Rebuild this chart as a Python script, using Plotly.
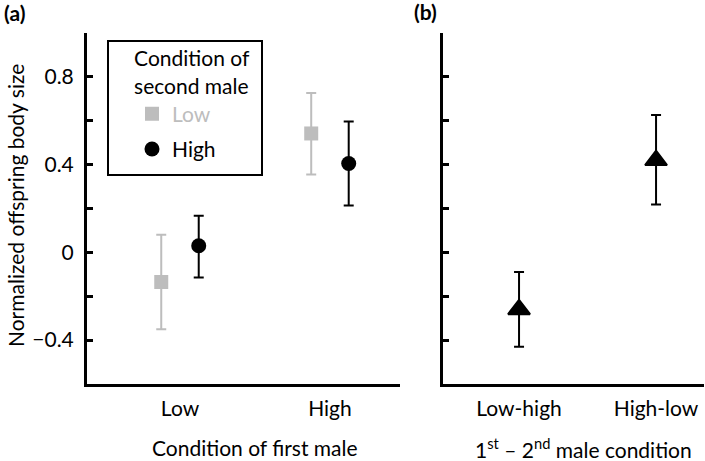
import plotly.graph_objects as go

# ---- data ----
first_male = ["Low", "High"]
second_low_mean = [-0.135, 0.542]
second_low_upper = [0.08, 0.726]
second_low_lower = [-0.35, 0.355]
second_high_mean = [0.03, 0.405]
second_high_upper = [0.167, 0.597]
second_high_lower = [-0.115, 0.214]

order_cats = ["Low-high", "High-low"]
order_mean = [-0.26, 0.42]
order_upper = [-0.09, 0.626]
order_lower = [-0.43, 0.218]

y_ticks = [-0.6, -0.4, -0.2, 0, 0.2, 0.4, 0.6, 0.8, 1.0]
y_ticklabels = ["", "\u22120.4", "", "0", "", "0.4", "", "0.8", ""]

GRAY = "#bdbdbd"
W, H = 705, 461
FONT = "Lato"
FS = 21
dodge = 0.125

def fx(px):
    return px / W

def fy(py):
    return 1 - py / H

def errs(mean, up, lo):
    return [u - m for u, m in zip(up, mean)], [m - l for m, l in zip(mean, lo)]

fig = go.Figure()

xpos = list(range(1, len(first_male) + 1))
e_up, e_lo = errs(second_low_mean, second_low_upper, second_low_lower)
fig.add_trace(go.Scatter(
    x=[x - dodge for x in xpos], y=second_low_mean, mode="markers",
    name="<span style='color:%s'>Low</span>" % GRAY, legendgroup="low",
    marker=dict(symbol="square", size=14, color=GRAY),
    error_y=dict(type="data", array=e_up, arrayminus=e_lo, color=GRAY, thickness=2, width=5),
    xaxis="x", yaxis="y"))
e_up, e_lo = errs(second_high_mean, second_high_upper, second_high_lower)
fig.add_trace(go.Scatter(
    x=[x + dodge for x in xpos], y=second_high_mean, mode="markers",
    name="High", legendgroup="high",
    marker=dict(symbol="circle", size=15, color="black"),
    error_y=dict(type="data", array=e_up, arrayminus=e_lo, color="black", thickness=2, width=5),
    xaxis="x", yaxis="y"))

xpos2 = list(range(1, len(order_cats) + 1))
e_up, e_lo = errs(order_mean, order_upper, order_lower)
fig.add_trace(go.Scatter(
    x=xpos2, y=order_mean, mode="markers", showlegend=False,
    marker=dict(symbol="triangle-up", size=19, color="black", line=dict(color="black", width=2)),
    error_y=dict(type="data", array=e_up, arrayminus=e_lo, color="black", thickness=2, width=5),
    xaxis="x2", yaxis="y2"))

ydom = [fy(384), fy(33)]
axis_common = dict(showline=True, linecolor="black", linewidth=3, showgrid=False,
                   zeroline=False, automargin=False,
                   tickfont=dict(family=FONT, size=FS, color="black"))

fig.update_layout(
    width=W, height=H,
    margin=dict(l=0, r=0, t=0, b=0, autoexpand=False),
    paper_bgcolor="white", plot_bgcolor="white",
    font=dict(family=FONT, size=FS, color="black"),
    xaxis=dict(domain=[fx(87), fx(400)], range=[0.38, 2.467], tickvals=xpos,
               ticktext=first_male, ticks="", anchor="y", ticklabelstandoff=4, **axis_common),
    yaxis=dict(domain=ydom, range=[-0.6, 1.0], tickvals=y_ticks, ticktext=y_ticklabels,
               ticks="inside", ticklen=6, tickwidth=2.5, tickcolor="black", anchor="x",
               ticklabelstandoff=6, **axis_common),
    xaxis2=dict(domain=[fx(443), fx(704)], range=[0.445, 2.35], tickvals=xpos2,
                ticktext=order_cats, ticks="", anchor="y2", ticklabelstandoff=4, **axis_common),
    yaxis2=dict(domain=ydom, range=[-0.6, 1.0], tickvals=y_ticks,
                ticktext=[""] * len(y_ticks), ticks="inside", ticklen=6, tickwidth=2.5,
                tickcolor="black", anchor="x2", **axis_common),
    legend=dict(x=fx(132), y=fy(39), xanchor="left", yanchor="top",
                borderwidth=0, bgcolor="rgba(0,0,0,0)", tracegroupgap=5,
                title=dict(text="Condition of<br>second male", side="top center",
                           font=dict(family=FONT, size=FS, color="black")),
                font=dict(family=FONT, size=FS, color="black"), itemwidth=30),
    showlegend=True,
)

# legend frame
fig.add_shape(type="rect", xref="paper", yref="paper",
              x0=fx(108), x1=fx(262), y0=fy(175), y1=fy(41),
              line=dict(color="black", width=2), fillcolor="rgba(0,0,0,0)")

annots = [
    dict(text="<b>(a)</b>", x=fx(14), y=fy(13)),
    dict(text="<b>(b)</b>", x=fx(425), y=fy(12)),
    dict(text="Condition of first male", x=fx(255), y=fy(447)),
    dict(text="1<sup>st</sup> \u2013 2<sup>nd</sup> male condition", x=fx(583), y=fy(448)),
    dict(text="Normalized offspring body size", x=fx(15), y=fy(206), textangle=-90),
]
for a in annots:
    fig.add_annotation(xref="paper", yref="paper", showarrow=False,
                       xanchor="center", yanchor="middle",
                       font=dict(family=FONT, size=FS, color="black"), **a)

fig.write_html("out.html", config={"displayModeBar": False},
               post_script="document.body.style.margin='0px';")
